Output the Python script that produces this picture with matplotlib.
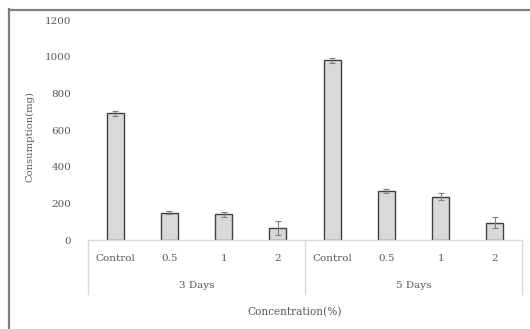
import numpy as np
import matplotlib
matplotlib.use("Agg")
import matplotlib.pyplot as plt
from matplotlib.lines import Line2D

# data
groups = ["3 Days", "5 Days"]
concentrations = ["Control", "0.5", "1", "2"]
consumption = [690, 150, 140, 65, 980, 267, 236, 95]
errors = [15, 10, 15, 40, 15, 12, 20, 30]

plt.rcParams['font.family'] = ['DejaVu Serif']
txt = '#595959'

fig = plt.figure(figsize=(5.3, 3.29), dpi=100)
ax = fig.add_axes([88 / 530, 89 / 329, 434 / 530, 220 / 329])

n = len(consumption)
x = np.arange(n) + 0.5
ax.bar(x, consumption, width=0.31, color='#d9d9d9', edgecolor='#404040', linewidth=1.0, zorder=2)
ax.errorbar(x, consumption, yerr=errors, fmt='none', ecolor='#7f7f7f', elinewidth=0.8, capsize=2.2,
            capthick=0.8, zorder=3)

ax.set_xlim(0, n)
ax.set_ylim(0, 1200)
ax.set_yticks(np.arange(0, 1201, 200))
ax.tick_params(axis='y', length=0, pad=12, labelsize=7.5, labelcolor=txt)
ax.set_xticks([])
for s in ['top', 'right', 'left']:
    ax.spines[s].set_visible(False)
ax.spines['bottom'].set_color('#d9d9d9')
ax.spines['bottom'].set_linewidth(1.0)

# category labels
for i, xi in enumerate(x):
    ax.text(xi, -0.082, concentrations[i % 4], transform=ax.get_xaxis_transform(),
            ha='center', va='center', fontsize=7.5, color=txt)
for g, name in enumerate(groups):
    ax.text(g * 4 + 2, -0.205, name, transform=ax.get_xaxis_transform(),
            ha='center', va='center', fontsize=7.5, color=txt)
for xs in [0, 4, 8]:
    ax.plot([xs, xs], [0, -0.245], transform=ax.get_xaxis_transform(), color='#d9d9d9',
            linewidth=1.0, clip_on=False)

fig.text(30 / 530, 1 - 137 / 329, 'Consumption(mg)', rotation=90, ha='center', va='center',
         fontsize=7.2, color=txt)
fig.text(295 / 530, 1 - 312 / 329, 'Concentration(%)', ha='center', va='center',
         fontsize=7.6, color=txt)

# chart frame (left and top edge)
fig.add_artist(Line2D([8.5 / 530, 8.5 / 530], [0, 1 - 9 / 329], color='#808080', linewidth=1.6))
fig.add_artist(Line2D([8.5 / 530, 1], [1 - 9.5 / 329, 1 - 9.5 / 329], color='#808080', linewidth=1.6))

fig.savefig('out.png', dpi=100)
